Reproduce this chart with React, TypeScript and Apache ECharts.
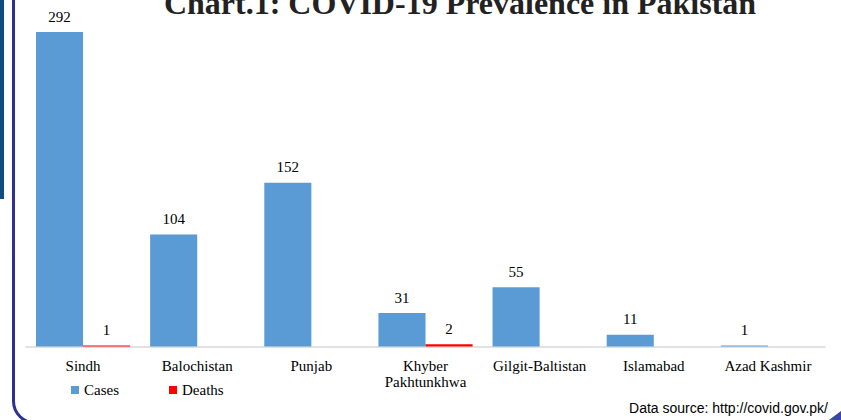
import React, { useEffect, useRef } from "react";
import * as echarts from "echarts";

const categories = [
  "Sindh",
  "Balochistan",
  "Punjab",
  "Khyber\nPakhtunkhwa",
  "Gilgit-Baltistan",
  "Islamabad",
  "Azad Kashmir",
];
const casesValues = [292, 104, 152, 31, 55, 11, 1];
const deathsValues = [1, 0, 0, 2, 0, 0, 0];
const seriesNames = ["Cases", "Deaths"];
const titleText = "Chart.1: COVID-19 Prevalence in Pakistan";
const sourceText = "Data source: http://covid.gov.pk/";

const SERIF = "'Liberation Serif', 'Times New Roman', serif";

export default function App() {
  const ref = useRef<HTMLDivElement>(null);

  useEffect(() => {
    document.body.style.margin = "0";
    const chart = echarts.init(ref.current!, null, { renderer: "svg" });
    const labelFmt = (p: any) => (p.value ? String(p.value) : "");
    chart.setOption({
      animation: false,
      backgroundColor: "#ffffff",
      title: {
        text: titleText,
        left: 460,
        textAlign: "center",
        top: -13,
        padding: 0,
        textStyle: {
          fontFamily: SERIF,
          fontSize: 32,
          fontWeight: "bold",
          color: "#222222",
        },
      },
      legend: {
        data: seriesNames,
        left: 71,
        top: 382.5,
        padding: 0,
        itemWidth: 8,
        itemHeight: 8,
        itemGap: 50,
        icon: "rect",
        textStyle: { fontFamily: SERIF, fontSize: 15, color: "#000" },
      },
      grid: { left: 26, right: 16, top: 23.4, bottom: 73.5, containLabel: false },
      xAxis: {
        type: "category",
        data: categories,
        axisTick: { show: false },
        axisLine: { show: true, lineStyle: { color: "#d9d9d9", width: 1.5 } },
        axisLabel: {
          interval: 0,
          margin: 11,
          fontFamily: SERIF,
          fontSize: 15,
          lineHeight: 16,
          color: "#000",
        },
      },
      yAxis: {
        type: "value",
        min: 0,
        max: 300,
        show: false,
        splitLine: { show: false },
      },
      series: [
        {
          name: seriesNames[0],
          type: "bar",
          data: casesValues,
          barGap: "0%",
          barCategoryGap: "17.5%",
          itemStyle: { color: "#5b9bd5" },
          label: {
            show: true,
            position: "top",
            distance: 8,
            fontFamily: SERIF,
            fontSize: 15,
            color: "#000",
            formatter: labelFmt,
          },
        },
        {
          name: seriesNames[1],
          type: "bar",
          data: deathsValues,
          barGap: "0%",
          barCategoryGap: "17.5%",
          itemStyle: { color: "#ff0000" },
          label: {
            show: true,
            position: "top",
            distance: 8,
            fontFamily: SERIF,
            fontSize: 15,
            color: "#000",
            formatter: labelFmt,
          },
        },
      ],
      graphic: [
        {
          type: "rect",
          shape: { x: 0, y: 0, width: 4, height: 199 },
          style: { fill: "#0f4c81" },
          silent: true,
        },
        {
          type: "rect",
          shape: { x: 13.5, y: -40, width: 1000, height: 463, r: 22 },
          style: { fill: "none", stroke: "#2e3192", lineWidth: 3 },
          silent: true,
        },
        {
          type: "polygon",
          shape: { points: [[841, 411], [841, 420], [829, 420]] },
          style: { fill: "#3a47a8" },
          silent: true,
        },
        {
          type: "text",
          x: 828,
          y: 407.6,
          style: {
            text: sourceText,
            fontFamily: "'Liberation Sans', Arial, sans-serif",
            fontSize: 14,
            fill: "#000",
            textAlign: "right",
            textVerticalAlign: "middle",
          },
          silent: true,
        },
      ],
    });
    return () => chart.dispose();
  }, []);

  return (
    <div
      ref={ref}
      style={{ position: "absolute", left: 0, top: 0, width: 841, height: 420 }}
    />
  );
}
